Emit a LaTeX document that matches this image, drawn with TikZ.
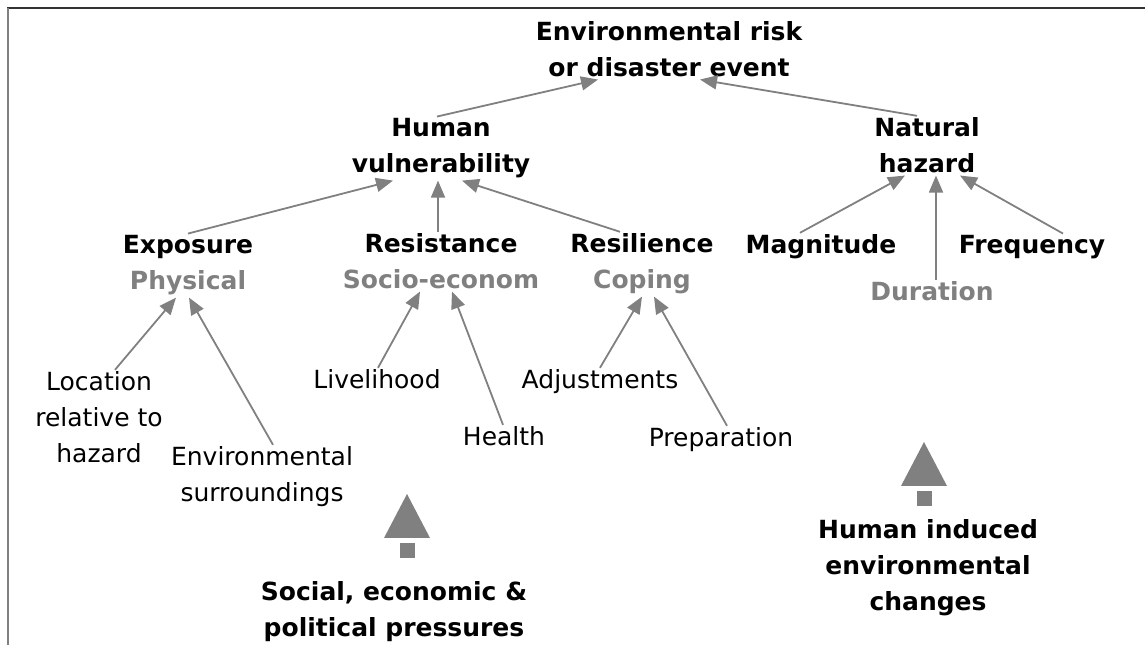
\documentclass[tikz,border=0pt]{standalone}
\usepackage{fontspec}
\setmainfont{DejaVu Sans}
\usetikzlibrary{arrows.meta}
\newcommand{\sublbl}[1]{\textcolor{gray}{#1}}

\begin{document}
\begin{tikzpicture}[x=1pt,y=1pt,
    every node/.style={inner sep=2pt,align=center,anchor=base,font=\fontsize{25}{36}\selectfont},
    head/.style={font=\fontsize{25}{36}\selectfont\bfseries},
    conn/.style={draw=gray,line width=1.8pt,-{Triangle[length=17pt,width=14pt]}}]
\useasboundingbox (0,0) rectangle (1145,645);

%Marco
\draw[black!80,line width=1.8pt] (7,637) -- (1145,637);
\draw[gray,line width=2pt] (7.5,637) -- (7.5,0);

%Nivel 1 y 2 (anclados en la base de la ultima linea)
\node[head] (ttl) at (669,568) {Environmental risk\\or disaster event};
\node[head] (hum) at (441,472) {Human\\vulnerability};
\node[head] (nat) at (927,472) {Natural\\hazard};

%Nivel 3
\node[head] (expo) at (188,355) {Exposure\\\sublbl{Physical}};
\node[head] (resi) at (441,356) {Resistance\\\sublbl{Socio-econom}};
\node[head] (resl) at (642,356) {Resilience\\\sublbl{Coping}};
\node[head] (mag) at (821,391) {Magnitude};
\node[head] (freq) at (1032,391) {Frequency};
\node[head,text=gray] (dur) at (932,344) {Duration};

%Nivel 4
\node (loc) at (99,182) {Location\\relative to\\hazard};
\node (env) at (262,143) {Environmental\\surroundings};
\node (live) at (377,256) {Livelihood};
\node (hlth) at (504,199) {Health};
\node (adj) at (600,256) {Adjustments};
\node (prep) at (721,198) {Preparation};

%Presiones
\node[head] (soc) at (394,9) {Social, economic \&\\political pressures};
\node[head] (hind) at (928,35) {Human induced\\environmental\\changes};

%Conectores: origen/desplazamiento/destino/desplazamiento
\foreach \a/\da/\b/\db in {hum/-4/ttl/-71, nat/-10/ttl/31,
    expo/0/hum/-48, resi/-3/hum/-3, resl/-22/hum/21,
    mag/-21/nat/-22, dur/4/nat/9, freq/31/nat/33,
    loc/16/expo/-12, env/11/expo/1,
    live/1/resi/-21, hlth/-1/resi/11,
    adj/0/resl/0, prep/6/resl/12}{
    \draw[conn] ([xshift=\da pt]\a.north) -- ([xshift=\db pt]\b.south);
}

%Flechas de bloque
\foreach \bx/\by in {407/107, 924/159}{
    \fill[gray] (\bx-23,\by) -- (\bx,\by+44) -- (\bx+23,\by) -- cycle;
    \fill[gray] (\bx-7.5,\by-5) rectangle ++(15,-15);
}
\end{tikzpicture}
\end{document}
